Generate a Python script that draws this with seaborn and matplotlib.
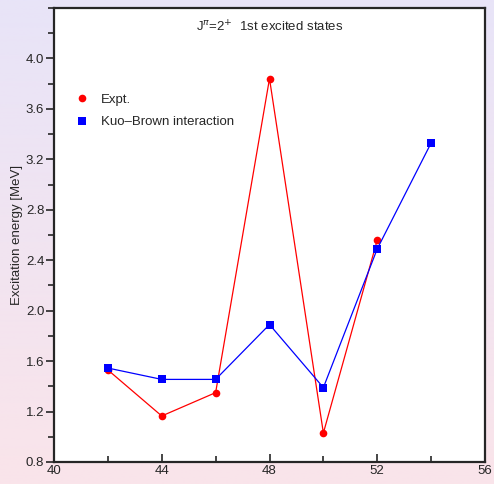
import numpy as np
import pandas as pd
import matplotlib
matplotlib.use("Agg")
import matplotlib.pyplot as plt
from matplotlib.lines import Line2D
from matplotlib.ticker import MultipleLocator
import seaborn as sns

sns.set_style("ticks")
plt.rcParams['font.family'] = ['Liberation Sans', 'DejaVu Sans']

expt_x = [42, 44, 46, 48, 50, 52]
expt_y = [1.53, 1.165, 1.35, 3.84, 1.03, 2.56]
kb_x = [42, 44, 46, 48, 50, 52, 54]
kb_y = [1.545, 1.455, 1.455, 1.89, 1.39, 2.49, 3.33]
x_ticks = [40, 44, 48, 52, 56]
y_ticks = [0.8, 1.2, 1.6, 2.0, 2.4, 2.8, 3.2, 3.6, 4.0]

fig = plt.figure(figsize=(4.94, 4.84), dpi=100)
# gradient background
bg = fig.add_axes([0, 0, 1, 1], zorder=-10)
top = np.array([0xe8, 0xe4, 0xf8]) / 255
bot = np.array([0xfa, 0xe4, 0xea]) / 255
t = np.linspace(0, 1, 256)[:, None]
grad = top[None, :] * (1 - t) + bot[None, :] * t
bg.imshow(grad[:, None, :], aspect='auto', extent=[0, 1, 0, 1])
bg.axis('off')

ax = fig.add_axes([54/494, 22/484, 431/494, 454/484])
ax.set_facecolor('white')

df_e = pd.DataFrame({'N': expt_x, 'E': expt_y})
df_k = pd.DataFrame({'N': kb_x, 'E': kb_y})
sns.lineplot(data=df_e, x='N', y='E', ax=ax, color='red', lw=0.9,
             marker='o', markersize=5.5, markeredgewidth=0, markeredgecolor='red')
sns.lineplot(data=df_k, x='N', y='E', ax=ax, color='blue', lw=0.9,
             marker='s', markersize=5.5, markeredgewidth=0, markeredgecolor='blue')

ax.set_xlim(40, 56)
ax.set_ylim(0.8, 4.4)
ax.set_xticks(x_ticks)
ax.set_yticks(y_ticks)
ax.set_yticklabels([f"{v:.1f}" for v in y_ticks])
ax.xaxis.set_minor_locator(MultipleLocator(2))
ax.yaxis.set_minor_locator(MultipleLocator(0.2))
ax.tick_params(which='major', direction='out', length=6, width=1.2, labelsize=9.5, pad=1)
ax.tick_params(which='minor', direction='out', length=4, width=1.2)
ax.tick_params(axis='x', which='both', direction='in')
ax.tick_params(axis='x', which='major', length=6, pad=2)
for s in ax.spines.values():
    s.set_linewidth(1.6)
    s.set_visible(True)
ax.set_xlabel('')
ax.set_ylabel('Excitation energy [MeV]', fontsize=9.5, labelpad=2)

ax.text(0.5, 0.958, r"J$^{\pi}$=2$^{+}$  1st excited states", transform=ax.transAxes,
        ha='center', va='center', fontsize=9.5)

handles = [Line2D([], [], color='red', marker='o', ls='none', markersize=5.5, markeredgewidth=0),
           Line2D([], [], color='blue', marker='s', ls='none', markersize=5.5, markeredgewidth=0)]
ax.legend(handles, ['Expt.', 'Kuo\u2013Brown interaction'], loc='upper left',
          bbox_to_anchor=(0.02, 0.838), frameon=False, fontsize=9.5,
          handletextpad=0.8, labelspacing=0.8, handlelength=1.2)

fig.savefig('out.png', dpi=100)
